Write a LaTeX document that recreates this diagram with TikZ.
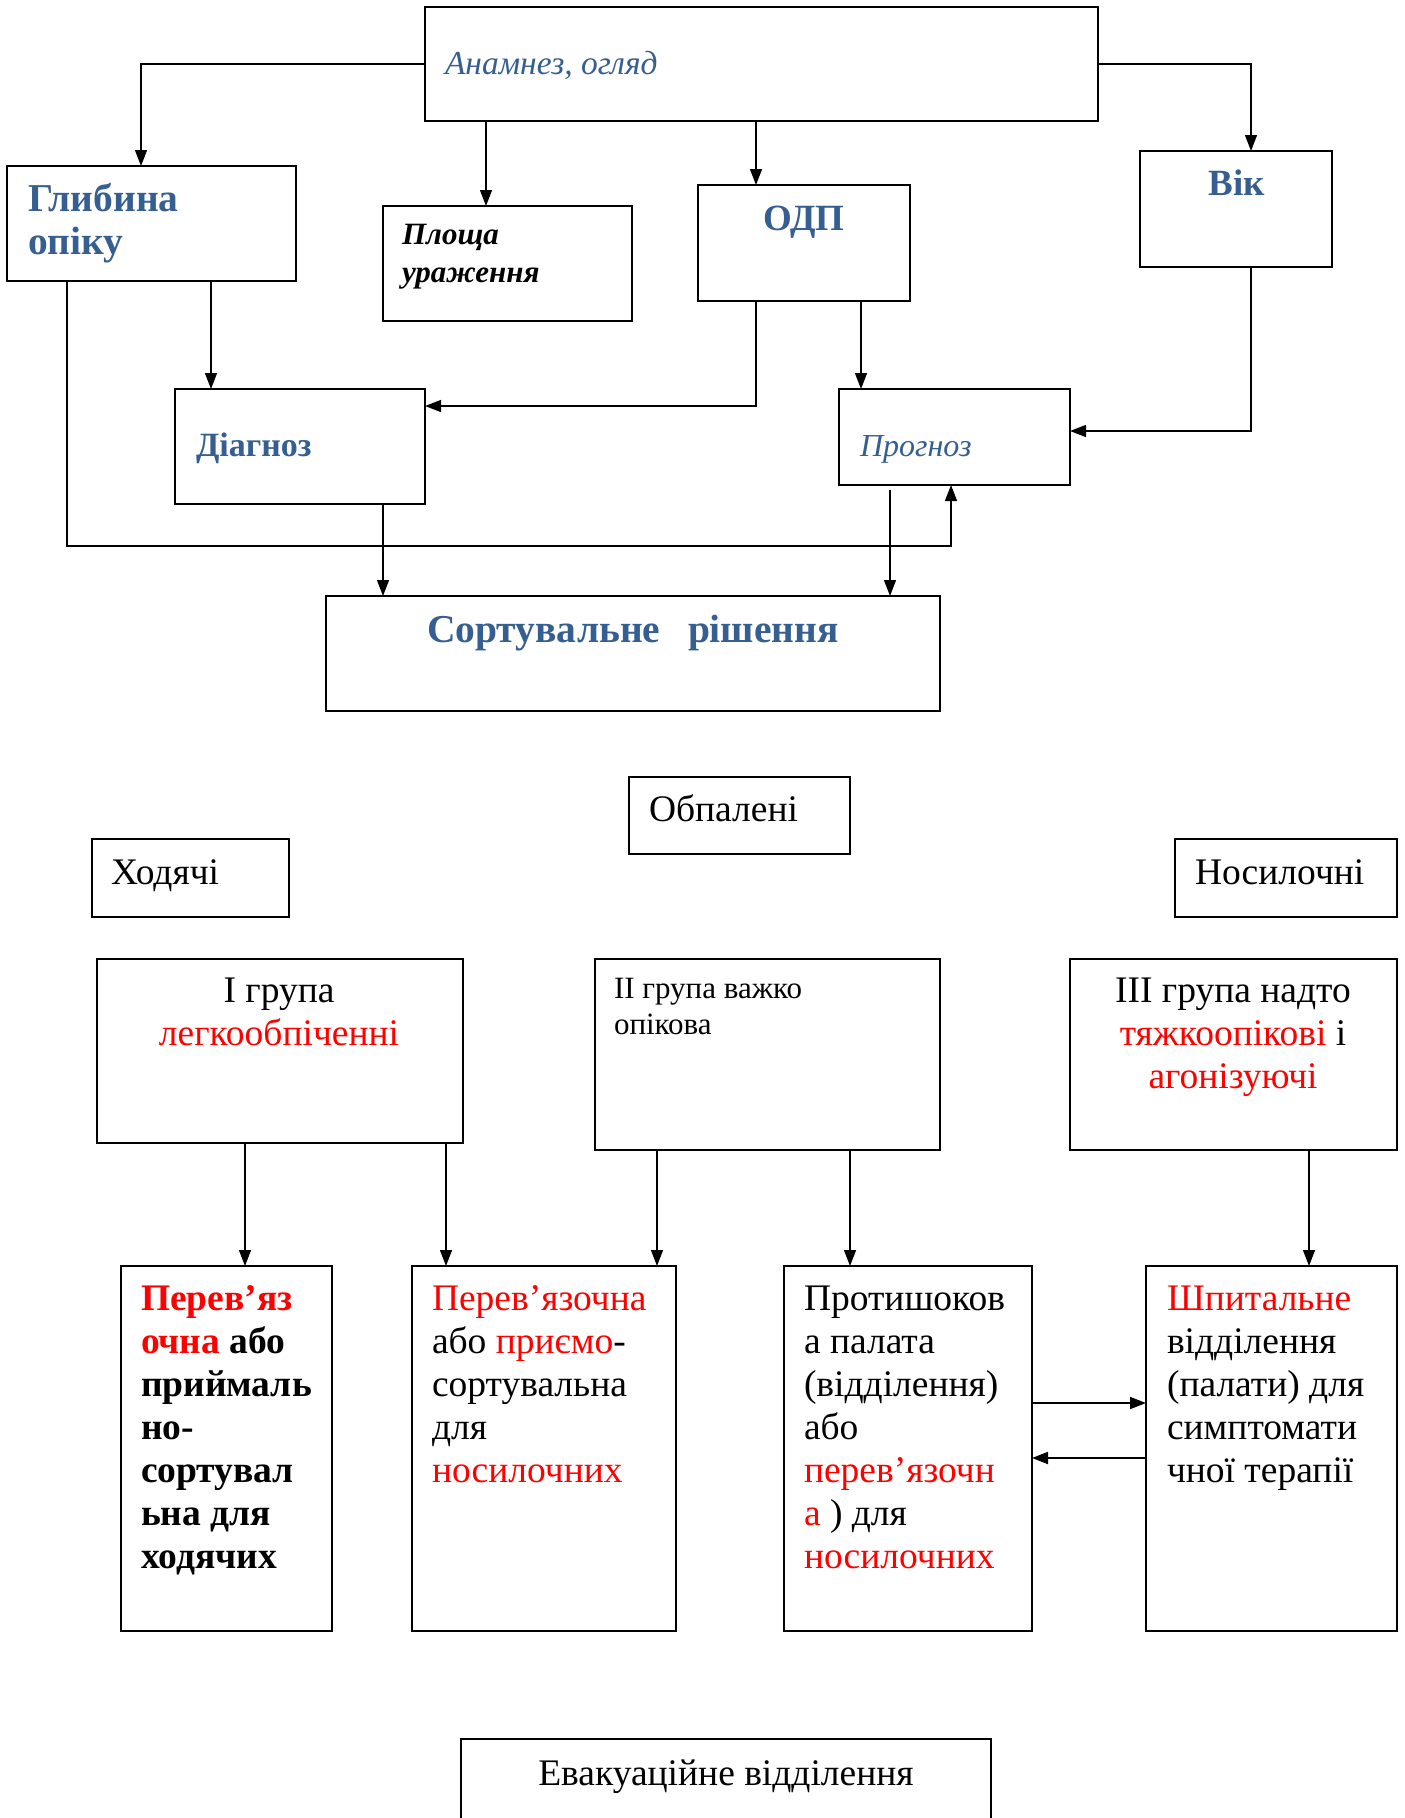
\documentclass[tikz,border=0pt]{standalone}
\usepackage{fontspec}
\setmainfont{Liberation Serif}
\usetikzlibrary{arrows.meta}
\definecolor{hblue}{HTML}{365F91}
\definecolor{tred}{HTML}{FF0000}
\tikzset{
  box/.style={draw, line width=1.7pt, inner sep=0pt, outer sep=0pt},
  arr/.style={line width=1.3pt, -{Triangle[length=16pt,width=12pt]}},
  txt/.style={inner sep=0pt, outer sep=0pt, font=\fontsize{37.5}{44}\selectfont},
  txts/.style={inner sep=0pt, outer sep=0pt, font=\fontsize{31}{37}\selectfont},
  hd/.style={inner sep=0pt, outer sep=0pt, text=hblue, font=\fontsize{37}{44}\selectfont\bfseries},
  hdl/.style={inner sep=0pt, outer sep=0pt, text=hblue, font=\fontsize{39.5}{44}\selectfont\bfseries},
  hds/.style={inner sep=0pt, outer sep=0pt, text=hblue, font=\fontsize{34}{40}\selectfont\bfseries},
  hit/.style={inner sep=0pt, outer sep=0pt, text=hblue, font=\fontsize{32}{38}\selectfont\itshape},
  bit/.style={inner sep=0pt, outer sep=0pt, font=\fontsize{31}{36}\selectfont\bfseries\itshape},
  tbf/.style={inner sep=0pt, outer sep=0pt, font=\fontsize{37.5}{44}\selectfont\bfseries},
}
\newcommand{\bx}[5]{\node[box, anchor=north west, minimum width={(#4)-(#2)}, minimum height={(#5)-(#3)}] (#1) at (#2,#3) {};}
\begin{document}
\begin{tikzpicture}[x=1pt,y=-1pt]
\useasboundingbox[fill=white] (0,0) rectangle (1405,1818);
% ---------- top boxes ----------
\bx{anam}{425}{7}{1098}{121}
\bx{glyb}{7}{166}{296}{281}
\bx{plo}{383}{206}{632}{321}
\bx{odp}{698}{185}{910}{301}
\bx{vik}{1140}{151}{1332}{267}
\bx{diag}{175}{389}{425}{504}
\bx{prog}{839}{389}{1070}{485}
\bx{sort}{326}{596}{940}{711}
% texts
\node[hit, font=\fontsize{33.5}{38}\selectfont\itshape, anchor=base west] (tanam) at (445,74) {Анамнез, огляд};
\node[hdl, anchor=base west] (tglyb1) at (28,211) {Глибина};
\node[hdl, anchor=base west] (tglyb2) at (28,254) {опіку};
\node[bit, anchor=base west] (tplo1) at (402,244) {Площа};
\node[bit, anchor=base west] (tplo2) at (402,282) {ураження};
\node[hd, anchor=base] (todp) at (804,230) {ОДП};
\node[hd, anchor=base] (tvik) at (1237,195) {Вік};
\node[hds, anchor=base west] (tdiag) at (196,456) {Діагноз};
\node[hit, anchor=base west] (tprog) at (860,456) {Прогноз};
\node[hdl, anchor=base] (tsort) at (633,642) {Сортувальне\hspace{0.45em} рішення};
% helper coordinates
\coordinate (x67) at (67,0);
\coordinate (x141) at (141,0);
\coordinate (x211) at (211,0);
\coordinate (x383) at (383,0);
\coordinate (x486) at (486,0);
\coordinate (x756) at (756,0);
\coordinate (x861) at (861,0);
\coordinate (x951) at (951,0);
\coordinate (x890) at (890,0);
\coordinate (x1251) at (1251,0);
\coordinate (y406) at (0,406);
\coordinate (y431) at (0,431);
\coordinate (y546) at (0,546);
\coordinate (pstart) at (890,490);
% connectors
\draw[arr] (anam.west) -| (glyb.north -| x141);
\draw[arr] (anam.east) -| (vik.north -| x1251);
\draw[arr] (anam.south -| x486) -- (plo.north -| x486);
\draw[arr] (anam.south -| x756) -- (odp.north -| x756);
\draw[arr] (glyb.south -| x211) -- (diag.north -| x211);
\draw[arr] (odp.south -| x756) |- (diag.east |- y406);
\draw[arr] (odp.south -| x861) -- (prog.north -| x861);
\draw[arr] (vik.south -| x1251) |- (prog.east |- y431);
\draw[arr] (glyb.south -| x67) |- (x951 |- y546) -- (prog.south -| x951);
\draw[arr] (diag.south -| x383) -- (sort.north -| x383);
\draw[arr] (pstart) -- (sort.north -| x890);
% ---------- bottom part ----------
\bx{obp}{629}{777}{850}{854}
\bx{hod}{92}{839}{289}{917}
\bx{nos}{1175}{839}{1397}{917}
\bx{g1}{97}{959}{463}{1143}
\bx{g2}{595}{959}{940}{1150}
\bx{g3}{1070}{959}{1397}{1150}
\bx{bA}{121}{1266}{332}{1631}
\bx{bB}{412}{1266}{676}{1631}
\bx{bC}{784}{1266}{1032}{1631}
\bx{bD}{1146}{1266}{1397}{1631}
\bx{evak}{461}{1739}{991}{1840}
\node[txt, anchor=base west] (tobp) at (649,821) {Обпалені};
\node[txt, anchor=base west] (thod) at (111,884) {Ходячі};
\node[txt, anchor=base west] (tnos) at (1195,884) {Носилочні};
\node[txt, anchor=base] (tg1a) at (279,1002) {І група};
\node[txt, anchor=base, text=tred] (tg1b) at (279,1045) {легкообпіченні};
\node[txts, anchor=base west] (tg2a) at (614,998) {ІІ група важко};
\node[txts, anchor=base west] (tg2b) at (614,1034) {опікова};
\node[txt, anchor=base] (tg3a) at (1233,1002) {ІІІ група надто};
\node[txt, anchor=base] (tg3b) at (1233,1045) {\textcolor{tred}{тяжкоопікові} і};
\node[txt, anchor=base, text=tred] (tg3c) at (1233,1088) {агонізуючі};
% box A
\node[tbf, anchor=base west, text=tred] (ta1) at (141,1310) {Перев’яз};
\node[tbf, anchor=base west] (ta2) at (141,1353) {\textcolor{tred}{очна} або};
\node[tbf, anchor=base west] (ta3) at (141,1396) {приймаль};
\node[tbf, anchor=base west] (ta4) at (141,1439) {но-};
\node[tbf, anchor=base west] (ta5) at (141,1482) {сортувал};
\node[tbf, anchor=base west] (ta6) at (141,1525) {ьна для};
\node[tbf, anchor=base west] (ta7) at (141,1568) {ходячих};
% box B
\node[txt, anchor=base west, text=tred] (tb1) at (432,1310) {Перев’язочна};
\node[txt, anchor=base west] (tb2) at (432,1353) {або \textcolor{tred}{приємо}-};
\node[txt, anchor=base west] (tb3) at (432,1396) {сортувальна};
\node[txt, anchor=base west] (tb4) at (432,1439) {для};
\node[txt, anchor=base west, text=tred] (tb5) at (432,1482) {носилочних};
% box C
\node[txt, anchor=base west] (tc1) at (804,1310) {Протишоков};
\node[txt, anchor=base west] (tc2) at (804,1353) {а палата};
\node[txt, anchor=base west] (tc3) at (804,1396) {(відділення)};
\node[txt, anchor=base west] (tc4) at (804,1439) {або};
\node[txt, anchor=base west, text=tred] (tc5) at (804,1482) {перев’язочн};
\node[txt, anchor=base west] (tc6) at (804,1525) {\textcolor{tred}{а} ) для};
\node[txt, anchor=base west, text=tred] (tc7) at (804,1568) {носилочних};
% box D
\node[txt, anchor=base west, text=tred] (td1) at (1167,1310) {Шпитальне};
\node[txt, anchor=base west] (td2) at (1167,1353) {відділення};
\node[txt, anchor=base west] (td3) at (1167,1396) {(палати) для};
\node[txt, anchor=base west] (td4) at (1167,1439) {симптомати};
\node[txt, anchor=base west] (td5) at (1167,1482) {чної терапії};
\node[txt, anchor=base] (tevak) at (726,1785) {Евакуаційне відділення};
% helper coordinates bottom
\coordinate (x245) at (245,0);
\coordinate (x446) at (446,0);
\coordinate (x657) at (657,0);
\coordinate (x850) at (850,0);
\coordinate (x1309) at (1309,0);
\coordinate (y1403) at (0,1403);
\coordinate (y1458) at (0,1458);
\draw[arr] (g1.south -| x245) -- (bA.north -| x245);
\draw[arr] (g1.south -| x446) -- (bB.north -| x446);
\draw[arr] (g2.south -| x657) -- (bB.north -| x657);
\draw[arr] (g2.south -| x850) -- (bC.north -| x850);
\draw[arr] (g3.south -| x1309) -- (bD.north -| x1309);
\draw[arr, line width=1.8pt] (bC.east |- y1403) -- (bD.west |- y1403);
\draw[arr, line width=1.8pt] (bD.west |- y1458) -- (bC.east |- y1458);
\end{tikzpicture}
\end{document}
